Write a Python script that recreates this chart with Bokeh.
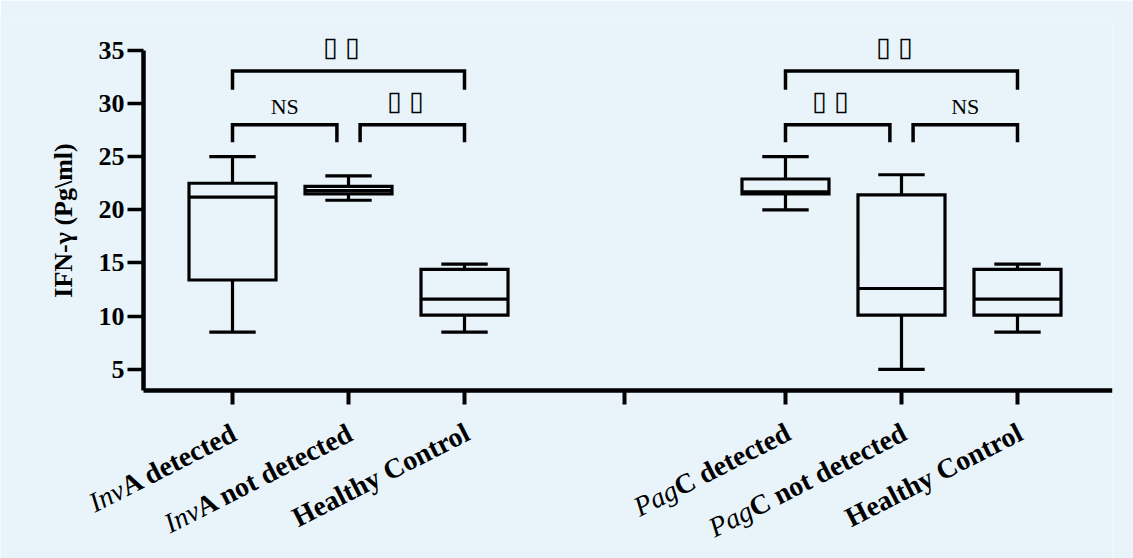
import math
from bokeh.plotting import figure
from bokeh.models import Range1d, FixedTicker, ColumnDataSource, CustomJSTickFormatter
from bokeh.embed import file_html
from bokeh.resources import INLINE
from bokeh.core.properties import value

# ---------------- data ----------------
label_italic = ["Inv", "Inv", "", "Pag", "Pag", ""]
label_bold = ["A detected", "A not detected", "Healthy Control",
              "C detected", "C not detected", "Healthy Control"]
whisker_low = [8.5, 20.9, 8.5, 20.0, 5.0, 8.5]
q1 = [13.4, 21.5, 10.1, 21.5, 10.1, 10.1]
median = [21.2, 21.8, 11.6, 21.7, 12.6, 11.6]
q3 = [22.5, 22.2, 14.4, 22.9, 21.4, 14.4]
whisker_high = [25.0, 23.2, 14.9, 25.0, 23.3, 14.9]
y_ticks = [5, 10, 15, 20, 25, 30, 35]
y_title = "IFN-\u03b3 (Pg\\ml)"

# significance comparisons within each group: group, from box, to box, text
comp_group = [0, 0, 0, 1, 1, 1]
comp_i = [0, 1, 0, 0, 1, 0]
comp_j = [1, 2, 2, 1, 2, 2]
comp_text = ["NS", "\u25af \u25af", "\u25af \u25af", "\u25af \u25af", "NS", "\u25af \u25af"]

# ---------------- layout ----------------
BG = "#E8F4FA"
FONT = "Liberation Serif"
GROUP_GAP = 4.767
pos = [k + g * GROUP_GAP for g in (0, 1) for k in range(3)]
BOX_W = 0.75
CAP_W = 0.40
LW = 3.2
AXIS_Y = 3          # where the category axis crosses the value axis
AXIS_X = -0.767     # where the value axis crosses the category axis
X_END = 7.586

p = figure(width=1133, height=558,
           x_range=Range1d(-2.0, X_END), y_range=Range1d(-12.8, 38),
           output_backend="svg", toolbar_location=None,
           min_border_left=0, min_border_right=21,
           min_border_top=18, min_border_bottom=0,
           background_fill_color=BG, border_fill_color=BG,
           outline_line_color=None)
p.grid.visible = False

# boxes
src = ColumnDataSource(dict(
    x=pos,
    left=[x - BOX_W / 2 for x in pos], right=[x + BOX_W / 2 for x in pos],
    capl=[x - CAP_W / 2 for x in pos], capr=[x + CAP_W / 2 for x in pos],
    low=whisker_low, q1=q1, med=median, q3=q3, high=whisker_high))
p.segment(x0="x", y0="q3", x1="x", y1="high", source=src, line_color="black", line_width=LW)
p.segment(x0="x", y0="q1", x1="x", y1="low", source=src, line_color="black", line_width=LW)
p.segment(x0="capl", y0="high", x1="capr", y1="high", source=src, line_color="black", line_width=LW)
p.segment(x0="capl", y0="low", x1="capr", y1="low", source=src, line_color="black", line_width=LW)
p.quad(left="left", right="right", bottom="q1", top="q3", source=src,
       fill_alpha=0, line_color="black", line_width=LW, line_join="miter")
p.segment(x0="left", y0="med", x1="right", y1="med", source=src, line_color="black", line_width=LW)

# significance brackets
bx, by, tx, ty, tt, ts, txo = [], [], [], [], [], [], []
for g, i, j, t in zip(comp_group, comp_i, comp_j, comp_text):
    off = g * GROUP_GAP
    x0 = i + (0.1 if i == 1 else 0) + off
    x1 = j - (0.1 if j == 1 else 0) + off
    is_ns = (t == "NS")
    if j - i == 1:
        h, leg = 28.0, 1.65
        th = 29.7 if is_ns else 30.2
    else:
        h, leg = 33.05, 1.75
        th = 35.3
    bx.append([x0, x0, x1, x1])
    by.append([h - leg, h, h, h - leg])
    tx.append((x0 + x1) / 2)
    ty.append(th)
    tt.append(t)
    ts.append("22px" if is_ns else "27px")
    txo.append(0 if is_ns else -7)
p.multi_line(xs=bx, ys=by, line_color="black", line_width=3.5, line_join="miter")
p.text(x=tx, y=ty, text=tt, x_offset=txo, text_align="center", text_baseline="alphabetic",
       text_font=value(FONT), text_font_size=ts, text_color="black")

# axes
yax = p.yaxis[0]
yax.fixed_location = AXIS_X
yax.ticker = FixedTicker(ticks=y_ticks)
yax.bounds = (AXIS_Y, 35)
yax.axis_line_width = 4.5
yax.major_tick_line_width = 3.5
yax.major_tick_out = 16
yax.major_tick_in = 0
yax.minor_tick_line_color = None
yax.major_label_standoff = 3
yax.major_label_text_font = FONT
yax.major_label_text_font_style = "bold"
yax.major_label_text_font_size = "26px"
yax.major_label_text_color = "black"

# value-axis title, centred on the drawn part of the axis
p.text(x=[AXIS_X], y=[(AXIS_Y + 35) / 2], text=[y_title], x_offset=-80, angle=math.pi / 2,
       text_align="center", text_baseline="middle",
       text_font=value(FONT), text_font_style="bold",
       text_font_size="26px", text_color="black")

xax = p.xaxis[0]
xax.fixed_location = AXIS_Y
xax.bounds = (AXIS_X, X_END)
xax.ticker = FixedTicker(ticks=pos + [(2 + GROUP_GAP) / 2])
xax.formatter = CustomJSTickFormatter(code="return ''")
xax.axis_line_width = 4.5
xax.major_tick_line_width = 4
xax.major_tick_out = 14
xax.major_tick_in = 0
xax.minor_tick_line_color = None

# rotated category labels (italic gene part + bold remainder)
TB = {' ': 250, 'A': 722, 'C': 722, 'H': 778, 'a': 500, 'c': 444, 'd': 556, 'e': 444,
      'h': 556, 'l': 278, 'n': 556, 'o': 500, 'r': 444, 't': 333, 'y': 500}
FS = 28
ANG = math.radians(27)
DX, DY = 3, 40   # screen offsets of the label end from the tick (right, down)
bold_x = []
ital_x, ital_t, ital_xo, ital_yo = [], [], [], []
for x, it, bd in zip(pos, label_italic, label_bold):
    bold_x.append(x)
    if it:
        w = sum(TB.get(c, 500) for c in bd) / 1000 * FS
        ital_x.append(x)
        ital_t.append(it)
        ital_xo.append(DX - w * math.cos(ANG))
        ital_yo.append(DY + w * math.sin(ANG))
p.text(x=bold_x, y=[AXIS_Y] * len(bold_x), text=label_bold, angle=ANG,
       x_offset=DX, y_offset=DY, text_align="right", text_baseline="alphabetic",
       text_font=value(FONT), text_font_style="bold",
       text_font_size=f"{FS}px", text_color="black")
p.text(x=ital_x, y=[AXIS_Y] * len(ital_x), text=ital_t, angle=ANG,
       x_offset=ital_xo, y_offset=ital_yo, text_align="right", text_baseline="alphabetic",
       text_font=value(FONT), text_font_style="italic",
       text_font_size=f"{FS}px", text_color="black")

open("out.html", "w").write(file_html(p, INLINE))
